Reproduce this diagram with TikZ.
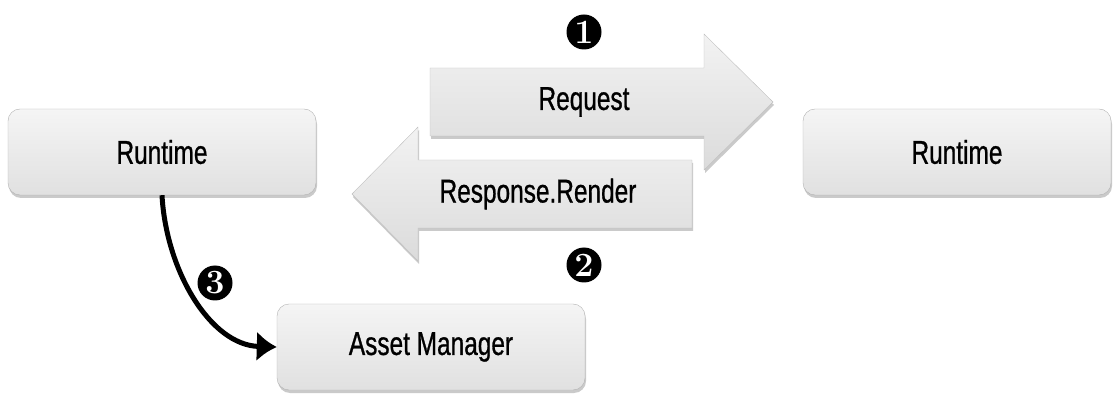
\documentclass[tikz,border=0pt]{standalone}
\usepackage{fontspec}
\usepackage{tikz}
\usetikzlibrary{arrows.meta,positioning,shadows}
\newfontfamily\boxfont[FakeStretch=0.74, FakeBold=0.8]{Liberation Sans}

\begin{document}
\begin{tikzpicture}[x=1pt, y=-1pt,
      font=\boxfont\fontsize{33}{38}\selectfont,
      box/.style={draw=black!30, rounded corners=12pt, minimum width=308pt, minimum height=86pt,
        top color=black!4, bottom color=black!12,
        drop shadow={shadow xshift=1pt, shadow yshift=-3pt, fill=black!35, opacity=.6}},
      bigarrow/.style={draw=black!25, top color=black!5, bottom color=black!14,
        drop shadow={shadow xshift=1pt, shadow yshift=-3pt, fill=black!35, opacity=.6}},
      num/.style={circle, fill=black, text=white, inner sep=0pt, minimum size=35pt,
        font=\rmfamily\bfseries\fontsize{34}{34}\selectfont},
      ar/.style={-{Latex[length=20pt, width=30pt]}, line width=5pt}]
    \useasboundingbox (0,0) rectangle (1119,403);
    \node[box] (rtl) at (162,152) {Runtime};
    \node[box] (rtr) at (957,152) {Runtime};
    \node[box] (am) at (431,347) {Asset Manager};
    % request / response arrows
    \path[bigarrow] (430,68) -- (704,68) -- (704,34) -- (773,102) -- (704,170) -- (704,136) -- (430,136) -- cycle;
    \path[bigarrow] (692,160) -- (418,160) -- (418,127) -- (352,194) -- (418,261) -- (418,228) -- (692,228) -- cycle;
    \node (req) at (584,102) {Request};
    \node (resp) at (538,194) {Response.Render};
    \node[num] (n1) at (584,32) {1};
    \node[num] (n2) at (584,265) {2};
    \node[num] (n3) at (215,283) {3};
    \draw[ar] (rtl.south) .. controls (166,270) and (210,345) .. (am.west);
  \end{tikzpicture}
\end{document}
